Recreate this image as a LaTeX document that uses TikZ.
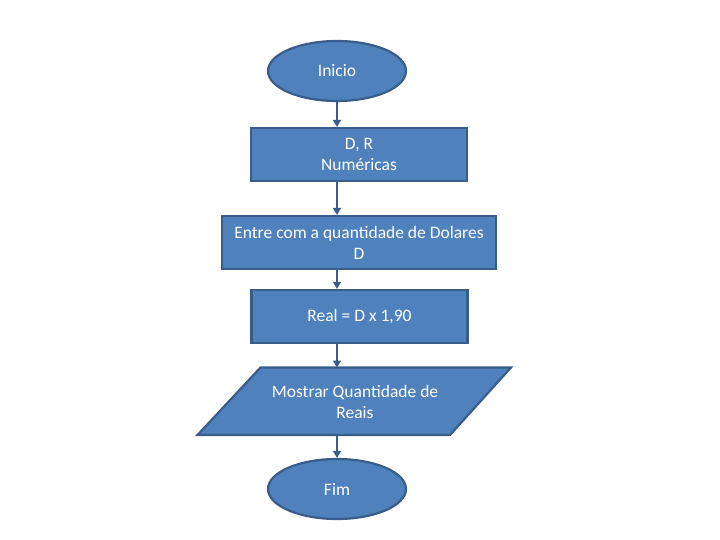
\documentclass[tikz,border=0pt]{standalone}
\usepackage{fontspec}
\setmainfont{Carlito}
\usetikzlibrary{shapes.geometric,arrows.meta}
\definecolor{boxfill}{HTML}{4F81BD}
\definecolor{boxline}{HTML}{385D8A}
\tikzset{
  shapebox/.style={draw=boxline, fill=boxfill, line width=2.2pt},
  procbox/.style={shapebox, rectangle, inner sep=0pt},
  term/.style={shapebox, ellipse, inner sep=0pt, minimum width=138pt, minimum height=60pt},
  lbl/.style={text=white, font=\fontsize{17.5}{21}\selectfont, align=center},
  conn/.style={draw=boxline, line width=1.6pt, -{Triangle[length=7pt,width=8pt]}}
}
\begin{document}
\begin{tikzpicture}[x=1pt,y=-1pt]
\useasboundingbox (0,0) rectangle (720,540);
\node[term, lbl] (ini) at (337,71) {Inicio};
\node[procbox, lbl, minimum width=216pt, minimum height=53pt] (r1) at (359,154.5) {D, R\\Numéricas};
\node[procbox, lbl, minimum width=274pt, minimum height=53pt] (r2) at (359,242.5) {Entre com a quantidade de Dolares\\D};
\node[procbox, lbl, minimum width=216pt, minimum height=53pt] (r3) at (359.5,316.5) {Real = D x 1,90};
\draw[shapebox] (260.5,367.5) -- (511,367.5) -- (450,435) -- (197.5,435) -- cycle;
\node[lbl] (out) at (355,402) {Mostrar Quantidade de\\Reais};
\coordinate (pt) at (337,367.5);
\coordinate (pb) at (337,435);
\node[term, lbl] (fim) at (337,489) {Fim};
\draw[conn] (ini.south) -- (ini.south |- r1.north);
\draw[conn] (r1.south -| ini.south) -- (r2.north -| ini.south);
\draw[conn] (r2.south -| ini.south) -- (r3.north -| ini.south);
\draw[conn] (r3.south -| ini.south) -- (pt);
\draw[conn] (pb) -- (fim.north);
\end{tikzpicture}
\end{document}
